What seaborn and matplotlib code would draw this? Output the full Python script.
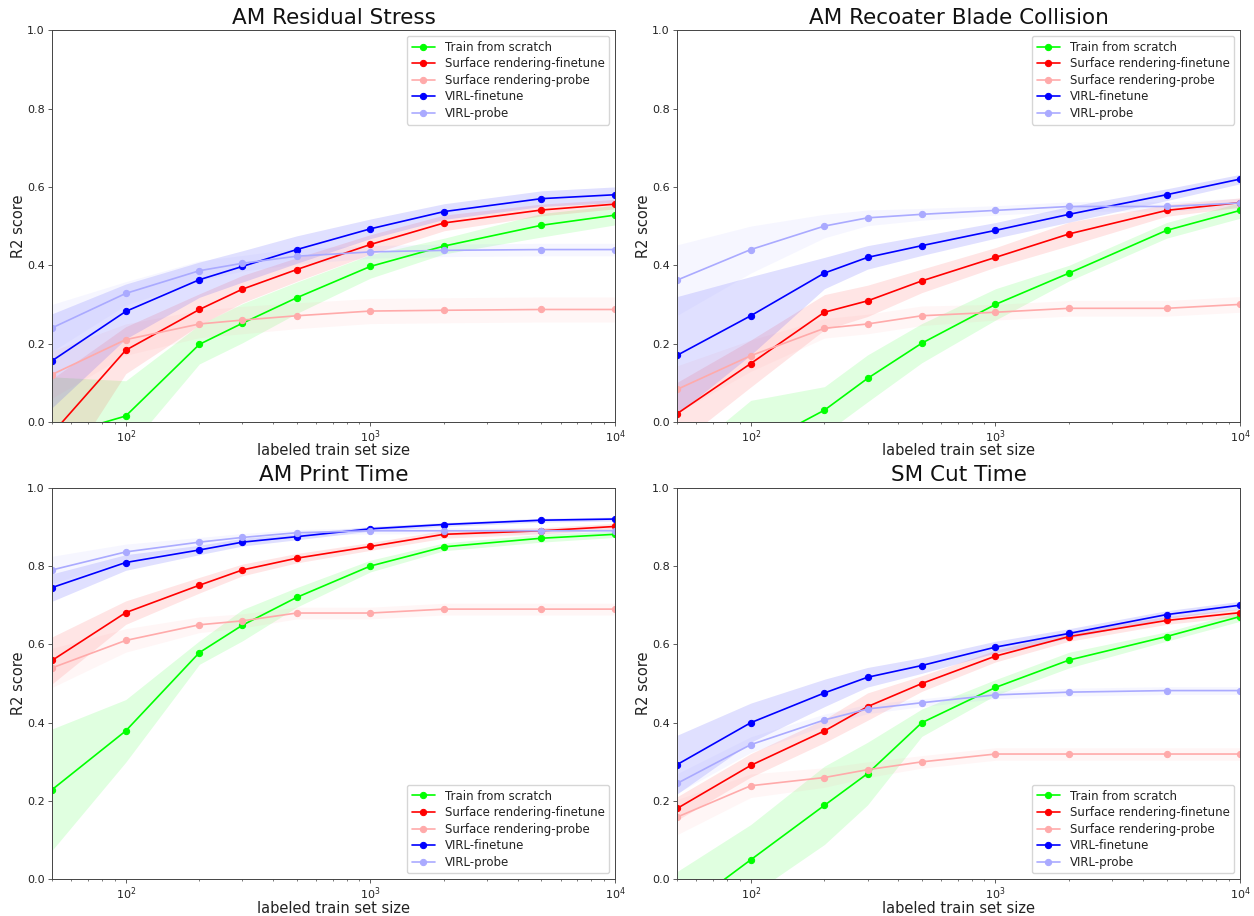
import matplotlib
matplotlib.use("Agg")
import matplotlib.pyplot as plt
import seaborn as sns
import numpy as np

# ==========================================
# DATA
# ==========================================
SIZES = [50, 100, 200, 300, 500, 1000, 2000, 5000, 10000]

METHODS = ["Train from scratch", "Surface rendering-finetune",
           "Surface rendering-probe", "VIRL-finetune", "VIRL-probe"]
COLORS = ["#00ff00", "#ff0000", "#ffaaaa", "#0000ff", "#aaaaff"]
BAND_ALPHA = [0.12, 0.1, 0.1, 0.12, 0.1]

TITLES = ["AM Residual Stress", "AM Recoater Blade Collision",
          "AM Print Time", "SM Cut Time"]
LEGEND_LOC = ["upper right", "upper right", "lower right", "lower right"]

# AM Residual Stress
rs_mean = {
    "Train from scratch":         [-0.04, 0.015, 0.198, 0.252, 0.317, 0.397, 0.449, 0.502, 0.528],
    "Surface rendering-finetune": [-0.03, 0.183, 0.287, 0.339, 0.389, 0.453, 0.508, 0.541, 0.556],
    "Surface rendering-probe":    [0.121, 0.210, 0.250, 0.260, 0.271, 0.283, 0.285, 0.287, 0.287],
    "VIRL-finetune":              [0.156, 0.282, 0.363, 0.397, 0.440, 0.493, 0.537, 0.570, 0.580],
    "VIRL-probe":                 [0.240, 0.328, 0.386, 0.405, 0.423, 0.434, 0.438, 0.440, 0.440],
}
rs_sd = {
    "Train from scratch":         [0.155, 0.09, 0.05, 0.05, 0.04, 0.03, 0.02, 0.03, 0.025],
    "Surface rendering-finetune": [0.14, 0.06, 0.04, 0.035, 0.03, 0.025, 0.02, 0.015, 0.012],
    "Surface rendering-probe":    [0.06, 0.04, 0.035, 0.035, 0.033, 0.032, 0.032, 0.032, 0.032],
    "VIRL-finetune":              [0.12, 0.07, 0.045, 0.04, 0.035, 0.025, 0.02, 0.02, 0.02],
    "VIRL-probe":                 [0.06, 0.03, 0.025, 0.02, 0.02, 0.016, 0.016, 0.016, 0.016],
}

# AM Recoater Blade Collision
rb_mean = {
    "Train from scratch":         [-0.25, -0.07, 0.030, 0.111, 0.201, 0.300, 0.380, 0.489, 0.540],
    "Surface rendering-finetune": [0.021, 0.149, 0.280, 0.309, 0.360, 0.420, 0.480, 0.540, 0.560],
    "Surface rendering-probe":    [0.083, 0.169, 0.239, 0.250, 0.271, 0.280, 0.290, 0.290, 0.300],
    "VIRL-finetune":              [0.170, 0.271, 0.380, 0.420, 0.450, 0.489, 0.530, 0.580, 0.620],
    "VIRL-probe":                 [0.362, 0.440, 0.500, 0.521, 0.530, 0.540, 0.550, 0.550, 0.559],
}
rb_sd = {
    "Train from scratch":         [0.15, 0.125, 0.06, 0.06, 0.05, 0.04, 0.02, 0.02, 0.02],
    "Surface rendering-finetune": [0.08, 0.06, 0.045, 0.04, 0.03, 0.025, 0.03, 0.015, 0.012],
    "Surface rendering-probe":    [0.06, 0.04, 0.025, 0.025, 0.025, 0.02, 0.02, 0.02, 0.02],
    "VIRL-finetune":              [0.15, 0.10, 0.04, 0.03, 0.025, 0.02, 0.02, 0.015, 0.012],
    "VIRL-probe":                 [0.09, 0.06, 0.03, 0.02, 0.015, 0.012, 0.012, 0.012, 0.012],
}

# AM Print Time
pt_mean = {
    "Train from scratch":         [0.229, 0.379, 0.579, 0.649, 0.720, 0.800, 0.849, 0.871, 0.881],
    "Surface rendering-finetune": [0.559, 0.681, 0.751, 0.790, 0.820, 0.850, 0.881, 0.890, 0.901],
    "Surface rendering-probe":    [0.540, 0.610, 0.650, 0.660, 0.680, 0.680, 0.690, 0.690, 0.690],
    "VIRL-finetune":              [0.745, 0.809, 0.841, 0.861, 0.875, 0.895, 0.906, 0.917, 0.920],
    "VIRL-probe":                 [0.790, 0.836, 0.861, 0.873, 0.885, 0.890, 0.890, 0.890, 0.890],
}
pt_sd = {
    "Train from scratch":         [0.155, 0.08, 0.03, 0.04, 0.025, 0.015, 0.01, 0.01, 0.008],
    "Surface rendering-finetune": [0.06, 0.03, 0.02, 0.015, 0.012, 0.01, 0.01, 0.008, 0.008],
    "Surface rendering-probe":    [0.05, 0.03, 0.02, 0.018, 0.015, 0.015, 0.015, 0.015, 0.015],
    "VIRL-finetune":              [0.035, 0.02, 0.012, 0.01, 0.008, 0.006, 0.005, 0.005, 0.005],
    "VIRL-probe":                 [0.035, 0.02, 0.012, 0.01, 0.008, 0.008, 0.008, 0.008, 0.008],
}

# SM Cut Time
ct_mean = {
    "Train from scratch":         [-0.09, 0.050, 0.189, 0.270, 0.400, 0.490, 0.560, 0.620, 0.671],
    "Surface rendering-finetune": [0.181, 0.291, 0.379, 0.441, 0.500, 0.570, 0.620, 0.661, 0.681],
    "Surface rendering-probe":    [0.159, 0.239, 0.260, 0.280, 0.300, 0.320, 0.320, 0.320, 0.320],
    "VIRL-finetune":              [0.293, 0.400, 0.476, 0.516, 0.546, 0.593, 0.628, 0.676, 0.700],
    "VIRL-probe":                 [0.245, 0.344, 0.407, 0.435, 0.451, 0.471, 0.478, 0.482, 0.482],
}
ct_sd = {
    "Train from scratch":         [0.11, 0.09, 0.10, 0.08, 0.035, 0.02, 0.02, 0.012, 0.012],
    "Surface rendering-finetune": [0.03, 0.03, 0.03, 0.035, 0.02, 0.015, 0.012, 0.01, 0.01],
    "Surface rendering-probe":    [0.045, 0.03, 0.025, 0.02, 0.016, 0.016, 0.016, 0.016, 0.016],
    "VIRL-finetune":              [0.075, 0.05, 0.035, 0.025, 0.02, 0.015, 0.012, 0.01, 0.01],
    "VIRL-probe":                 [0.025, 0.02, 0.015, 0.012, 0.01, 0.01, 0.01, 0.01, 0.01],
}

PANELS = [(rs_mean, rs_sd), (rb_mean, rb_sd), (pt_mean, pt_sd), (ct_mean, ct_sd)]

# ==========================================
# PLOT
# ==========================================
sns.set_style("ticks")
plt.rcParams["font.family"] = ["DejaVu Sans"]
plt.rcParams.update({
    "axes.edgecolor": "#444444",
    "axes.linewidth": 0.7,
    "xtick.major.size": 2.7, "xtick.minor.size": 1.6,
    "ytick.major.size": 2.7, "ytick.minor.size": 1.6,
    "xtick.major.width": 0.6, "xtick.minor.width": 0.5,
    "ytick.major.width": 0.6,
    "xtick.major.pad": 1.8, "ytick.major.pad": 2.7,
    "xtick.color": "#444444", "ytick.color": "#444444",
    "xtick.labelcolor": "#222222", "ytick.labelcolor": "#222222",
    "axes.titlepad": 4.5,
})

fig, axes = plt.subplots(2, 2, figsize=(12.54, 9.16), dpi=100)
fig.subplots_adjust(left=0.0415, right=0.989, top=0.967, bottom=0.040,
                    wspace=0.11, hspace=0.168)

for ax, title, loc, (means, sds) in zip(axes.flat, TITLES, LEGEND_LOC, PANELS):
    for method, color, band_alpha in zip(METHODS, COLORS, BAND_ALPHA):
        m = np.array(means[method])
        s = np.array(sds[method])
        ax.fill_between(SIZES, m - s, m + s, color=color, alpha=band_alpha,
                        linewidth=0)
        sns.lineplot(x=SIZES, y=m, color=color, marker="o", markersize=4.5,
                     markeredgecolor=color, linewidth=1.2, label=method, ax=ax)
    ax.set_xscale("log")
    ax.set_xlim(50, 10000)
    ax.set_ylim(0, 1)
    ax.set_yticks([0, 0.2, 0.4, 0.6, 0.8, 1.0])
    ax.set_title(title, fontsize=15.5, color="#111111")
    ax.set_xlabel("labeled train set size", fontsize=10.5, color="#222222",
                  labelpad=-1.2)
    ax.set_ylabel("R2 score", fontsize=10.5, color="#222222", labelpad=0.5)
    ax.tick_params(labelsize=8)
    leg = ax.legend(loc=loc, fontsize=8.5, frameon=True, labelspacing=0.3,
                    handlelength=2.0, borderpad=0.4)
    for t in leg.get_texts():
        t.set_color("#222222")

plt.savefig("out.png", dpi=100)
plt.close()
